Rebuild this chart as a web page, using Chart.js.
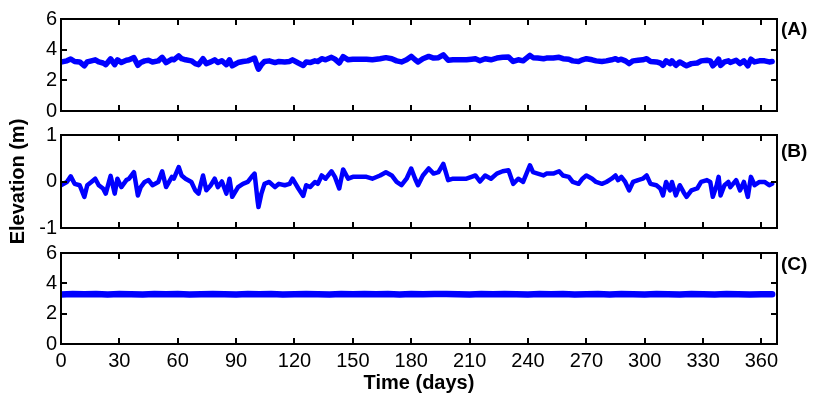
<!DOCTYPE html>
<html>
<head>
<meta charset="utf-8">
<script src="https://cdn.jsdelivr.net/npm/chart.js@4.4.1/dist/chart.umd.min.js"></script>
<style>
  html,body{margin:0;padding:0;background:#fff;}
  #wrap{position:relative;width:814px;height:395px;overflow:hidden;background:#fff;}
  #wrap canvas{position:absolute;left:0;top:0;}
  .lab{position:absolute;left:781px;font:bold 19px "Liberation Sans",Arial,sans-serif;line-height:19px;color:#000;}
</style>
</head>
<body>
<div id="wrap">
  <canvas id="cA" width="814" height="395"></canvas>
  <canvas id="cB" width="814" height="395"></canvas>
  <canvas id="cC" width="814" height="395"></canvas>
  <div class="lab" style="top:19px">(A)</div>
  <div class="lab" style="top:141px">(B)</div>
  <div class="lab" style="top:254px">(C)</div>
</div>
<script>
// ---- data ----
const days = [0,3,5,7,9.6,12,13.5,15.6,17.6,19.4,21.6,23,25.5,27.6,29,31,33.6,35,37.5,39.5,41,43,45,47,50,52,54,57,58,60.5,62,64,67,69,70.7,73,74.7,77,79,80.6,82.7,85,86.6,88,91,93.5,96,98.6,99.5,101,101.5,103,104.6,107,110,112,115,117.5,119,122,124.5,126,128,130.5,132,134,136,139,140.8,143,145,147.6,150,153.6,157,160,164,167,170,172.5,175,177.6,180,182,183.5,186,189,191.5,194,196.5,199,201.5,205,208.4,211,213,215.3,218,221,224,227,230,232.4,235,237.5,241,242.6,245,248,249.5,253,256,258,261,263,266,268,270,273,275,278,280.3,283,285,286.3,288,290,292,294,296.6,299,301,303,306,308,309.4,311,313,314,316,318,320,321.5,324,327,329,332,333.7,335,337,338,339,341,343,344,347,349,351,353,354.6,356.5,359,361.6,364,365.5];

const elevA = [3.20,3.27,3.39,3.23,3.20,2.95,3.20,3.27,3.34,3.20,3.13,3.02,3.40,3.02,3.34,3.16,3.31,3.34,3.48,2.98,3.16,3.27,3.31,3.20,3.27,3.50,3.16,3.38,3.34,3.59,3.41,3.34,3.27,3.09,3.02,3.41,3.09,3.20,3.34,3.16,3.28,3.02,3.34,2.95,3.16,3.23,3.27,3.41,3.45,2.88,2.73,3.02,3.23,3.27,3.16,3.23,3.20,3.23,3.34,3.13,2.97,3.20,3.16,3.27,3.23,3.41,3.34,3.50,3.38,3.13,3.54,3.34,3.38,3.38,3.38,3.34,3.41,3.48,3.41,3.27,3.20,3.34,3.56,3.34,3.20,3.41,3.56,3.45,3.48,3.66,3.31,3.34,3.34,3.34,3.38,3.41,3.28,3.41,3.34,3.45,3.50,3.52,3.23,3.34,3.27,3.63,3.48,3.45,3.41,3.45,3.45,3.50,3.41,3.38,3.27,3.23,3.34,3.41,3.34,3.27,3.23,3.27,3.34,3.41,3.31,3.38,3.27,3.09,3.27,3.31,3.34,3.41,3.23,3.20,3.13,2.98,3.27,3.09,3.27,2.98,3.20,3.05,2.95,3.09,3.13,3.27,3.31,3.27,2.95,3.20,3.38,2.98,3.20,3.27,3.16,3.31,3.09,3.27,2.95,3.38,3.20,3.27,3.27,3.20,3.23];

const elevB = [-0.08,-0.01,0.11,-0.05,-0.08,-0.33,-0.08,-0.01,0.06,-0.08,-0.15,-0.26,0.12,-0.26,0.06,-0.12,0.03,0.06,0.20,-0.30,-0.12,-0.01,0.03,-0.08,-0.01,0.22,-0.12,0.10,0.06,0.31,0.13,0.06,-0.01,-0.19,-0.26,0.13,-0.19,-0.08,0.06,-0.12,0.00,-0.26,0.06,-0.33,-0.12,-0.05,-0.01,0.13,0.17,-0.40,-0.55,-0.26,-0.05,-0.01,-0.12,-0.05,-0.08,-0.05,0.06,-0.15,-0.31,-0.08,-0.12,-0.01,-0.05,0.13,0.06,0.22,0.10,-0.15,0.26,0.06,0.10,0.10,0.10,0.06,0.13,0.20,0.13,-0.01,-0.08,0.06,0.28,0.06,-0.08,0.13,0.28,0.17,0.20,0.38,0.03,0.06,0.06,0.06,0.10,0.13,0.00,0.13,0.06,0.17,0.22,0.24,-0.05,0.06,-0.01,0.35,0.20,0.17,0.13,0.17,0.17,0.22,0.13,0.10,-0.01,-0.05,0.06,0.13,0.06,-0.01,-0.05,-0.01,0.06,0.13,0.03,0.10,-0.01,-0.19,-0.01,0.03,0.06,0.13,-0.05,-0.08,-0.15,-0.30,-0.01,-0.19,-0.01,-0.30,-0.08,-0.23,-0.33,-0.19,-0.15,-0.01,0.03,-0.01,-0.33,-0.08,0.10,-0.30,-0.08,-0.01,-0.12,0.03,-0.19,-0.01,-0.33,0.10,-0.08,-0.01,-0.01,-0.08,-0.05];

const daysC = [0,6,12,18,24,30,36,42,48,54,60,66,72,78,84,90,96,102,108,114,120,126,132,138,144,150,156,162,168,174,180,186,192,198,204,210,216,222,228,234,240,246,252,258,264,270,276,282,288,294,300,306,312,318,324,330,336,342,348,354,360,365.5];
const elevC = [3.27,3.29,3.28,3.30,3.27,3.29,3.28,3.27,3.30,3.28,3.29,3.27,3.28,3.30,3.28,3.27,3.29,3.28,3.30,3.27,3.28,3.29,3.28,3.27,3.30,3.28,3.29,3.28,3.30,3.27,3.29,3.28,3.30,3.29,3.28,3.27,3.29,3.28,3.30,3.28,3.27,3.29,3.28,3.30,3.27,3.28,3.29,3.27,3.29,3.28,3.27,3.29,3.28,3.27,3.29,3.28,3.27,3.29,3.28,3.27,3.28,3.28];

const xTicks = [0,30,60,90,120,150,180,210,240,270,300,330,360];
const yTicksA = [0,2,4,6];
const yTicksB = [-1,0,1];
const yTicksC = [0,2,4,6];

// ---- drawing ----
const FONT = '"Liberation Sans", Arial, sans-serif';
Chart.defaults.font.family = FONT;
Chart.defaults.color = '#000';

const framePlugin = {
  id: 'frame',
  afterDatasetsDraw(chart) {
    const {ctx, chartArea: {left, right, top, bottom}, scales: {x, y}} = chart;
    ctx.save();
    ctx.strokeStyle = '#000';
    ctx.lineWidth = 2;
    ctx.beginPath();
    const tl = 6;
    x.ticks.forEach(t => {
      const px = Math.round(x.getPixelForValue(t.value));
      ctx.moveTo(px, bottom); ctx.lineTo(px, bottom - tl);
      ctx.moveTo(px, top); ctx.lineTo(px, top + tl);
    });
    y.ticks.forEach(t => {
      const py = Math.round(y.getPixelForValue(t.value));
      ctx.moveTo(left, py); ctx.lineTo(left + tl, py);
      ctx.moveTo(right, py); ctx.lineTo(right - tl, py);
    });
    ctx.stroke();
    ctx.strokeRect(left, top, right - left, bottom - top);
    ctx.restore();
  }
};

function makePanel(id, xs, ys, yTicks, ymin, ymax, padTop, padBottom, isBottom, showYTitle, lw) {
  const pts = xs.map((d, i) => ({x: d, y: ys[i]}));
  return new Chart(document.getElementById(id), {
    type: 'line',
    data: {datasets: [{data: pts, borderColor: '#0000ff', borderWidth: lw, pointRadius: 0, tension: 0, borderJoinStyle: 'round', borderCapStyle: 'round', fill: false}]},
    options: {
      responsive: false, animation: false, devicePixelRatio: 1,
      layout: {padding: {top: padTop, bottom: padBottom, left: 0, right: 37}},
      plugins: {legend: {display: false}, tooltip: {enabled: false}},
      scales: {
        x: {
          type: 'linear', min: 0, max: 368,
          afterBuildTicks: s => { s.ticks = xTicks.map(v => ({value: v})); },
          grid: {display: false, drawTicks: false},
          border: {display: false},
          ticks: {display: isBottom, font: {size: 20}, padding: 5, maxRotation: 0, autoSkip: false},
          title: {display: isBottom, text: 'Time (days)', font: {size: 20, weight: 'bold'}, padding: {top: 0, bottom: 0}},
          afterFit: s => { s.height = isBottom ? 51 : 0; }
        },
        y: {
          min: ymin, max: ymax,
          afterBuildTicks: s => { s.ticks = yTicks.map(v => ({value: v})); },
          grid: {display: false, drawTicks: false},
          border: {display: false},
          ticks: {font: {size: 20}, padding: 4},
          title: {display: showYTitle, text: 'Elevation (m)', font: {size: 20, weight: 'bold'}, padding: {top: 6, bottom: 0}},
          afterFit: s => { s.width = 61; }
        }
      }
    },
    plugins: [framePlugin]
  });
}

makePanel('cA', days, elevA, yTicksA, 0, 6, 19, 395 - 111, false, false, 5.5);
makePanel('cB', days, elevB, yTicksB, -1, 1, 135, 395 - 228, false, true, 4.5);
makePanel('cC', daysC, elevC, yTicksC, 0, 6, 253, 0, true, false, 6.5);
</script>
</body>
</html>
